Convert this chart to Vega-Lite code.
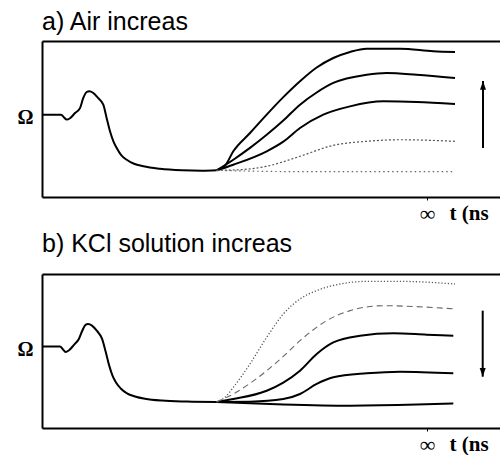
{
  "$schema": "https://vega.github.io/schema/vega-lite/v6.json",
  "padding": {"left": 16, "top": 10, "right": 0, "bottom": 0},
  "spacing": 8,
  "config": {
    "view": {"stroke": null},
    "title": {"font": "Liberation Sans", "fontSize": 25, "fontWeight": "normal", "anchor": "start", "frame": "group", "color": "#000", "baseline": "alphabetic"},
    "axis": {"grid": false, "domainColor": "#000", "domainWidth": 2, "tickColor": "#000", "labelColor": "#000", "titleColor": "#000"}
  },
  "datasets": {
    "a": [
      {"s": "base", "t": 0, "v": 52.8}, {"s": "base", "t": 19, "v": 52.8}, {"s": "base", "t": 22, "v": 51}, {"s": "base", "t": 24.7, "v": 49.6}, {"s": "base", "t": 28, "v": 50.5}, {"s": "base", "t": 33, "v": 53.8}, {"s": "base", "t": 38, "v": 57}, {"s": "base", "t": 41.3, "v": 63.5}, {"s": "base", "t": 44.7, "v": 67.3}, {"s": "base", "t": 47.3, "v": 67.8}, {"s": "base", "t": 51, "v": 66.8}, {"s": "base", "t": 56, "v": 63.5}, {"s": "base", "t": 61.3, "v": 59.2}, {"s": "base", "t": 64.5, "v": 51}, {"s": "base", "t": 68, "v": 42.1}, {"s": "base", "t": 71.5, "v": 35.5}, {"s": "base", "t": 74.7, "v": 31.4}, {"s": "base", "t": 79, "v": 27}, {"s": "base", "t": 84.7, "v": 23.9}, {"s": "base", "t": 92, "v": 21.3}, {"s": "base", "t": 101.3, "v": 19.7}, {"s": "base", "t": 118, "v": 18.1}, {"s": "base", "t": 140, "v": 17.1}, {"s": "base", "t": 160, "v": 16.8}, {"s": "base", "t": 174.7, "v": 17.1},
      {"s": "c1", "t": 174.7, "v": 17.1}, {"s": "c1", "t": 183, "v": 20}, {"s": "c1", "t": 191.3, "v": 29.3}, {"s": "c1", "t": 208, "v": 41}, {"s": "c1", "t": 224.7, "v": 52.8}, {"s": "c1", "t": 241.3, "v": 64}, {"s": "c1", "t": 258, "v": 74.2}, {"s": "c1", "t": 274.7, "v": 83}, {"s": "c1", "t": 291.3, "v": 89.1}, {"s": "c1", "t": 308, "v": 93}, {"s": "c1", "t": 324.7, "v": 95.1}, {"s": "c1", "t": 358, "v": 95.1}, {"s": "c1", "t": 391.3, "v": 93.4}, {"s": "c1", "t": 413, "v": 92.9},
      {"s": "c2", "t": 174.7, "v": 17.1}, {"s": "c2", "t": 191.3, "v": 23.9}, {"s": "c2", "t": 208, "v": 31.5}, {"s": "c2", "t": 224.7, "v": 39.9}, {"s": "c2", "t": 241.3, "v": 49}, {"s": "c2", "t": 258, "v": 59.2}, {"s": "c2", "t": 274.7, "v": 67}, {"s": "c2", "t": 291.3, "v": 73.1}, {"s": "c2", "t": 324.7, "v": 78.4}, {"s": "c2", "t": 344.7, "v": 79.5}, {"s": "c2", "t": 374.7, "v": 78.4}, {"s": "c2", "t": 413, "v": 76.3},
      {"s": "c3", "t": 174.7, "v": 17.1}, {"s": "c3", "t": 191.3, "v": 20.7}, {"s": "c3", "t": 224.7, "v": 29.3}, {"s": "c3", "t": 241.3, "v": 35.5}, {"s": "c3", "t": 258, "v": 44.2}, {"s": "c3", "t": 281.3, "v": 52.8}, {"s": "c3", "t": 308, "v": 58.1}, {"s": "c3", "t": 341.3, "v": 61.3}, {"s": "c3", "t": 374.7, "v": 60.9}, {"s": "c3", "t": 413, "v": 59.6},
      {"s": "c4", "t": 174.7, "v": 17.1}, {"s": "c4", "t": 200, "v": 17.6}, {"s": "c4", "t": 224.7, "v": 19.7}, {"s": "c4", "t": 258, "v": 26.1}, {"s": "c4", "t": 291.3, "v": 33.1}, {"s": "c4", "t": 324.7, "v": 35.7}, {"s": "c4", "t": 358, "v": 36.7}, {"s": "c4", "t": 413, "v": 35.7},
      {"s": "c5", "t": 174.7, "v": 17.1}, {"s": "c5", "t": 250, "v": 16.3}, {"s": "c5", "t": 413, "v": 16.3}
    ],
    "b": [
      {"s": "base", "t": 0, "v": 53}, {"s": "base", "t": 18, "v": 53}, {"s": "base", "t": 21, "v": 51}, {"s": "base", "t": 23.5, "v": 49.4}, {"s": "base", "t": 27, "v": 50.5}, {"s": "base", "t": 32, "v": 54}, {"s": "base", "t": 37, "v": 58}, {"s": "base", "t": 40.5, "v": 63.5}, {"s": "base", "t": 43.5, "v": 67}, {"s": "base", "t": 46, "v": 67.5}, {"s": "base", "t": 50, "v": 66.5}, {"s": "base", "t": 55, "v": 63}, {"s": "base", "t": 60, "v": 58}, {"s": "base", "t": 63.5, "v": 50}, {"s": "base", "t": 67, "v": 41}, {"s": "base", "t": 70.5, "v": 34}, {"s": "base", "t": 74, "v": 29.5}, {"s": "base", "t": 79, "v": 25.5}, {"s": "base", "t": 85, "v": 22.5}, {"s": "base", "t": 93, "v": 20.5}, {"s": "base", "t": 103, "v": 19}, {"s": "base", "t": 120, "v": 17.8}, {"s": "base", "t": 145, "v": 17.2}, {"s": "base", "t": 174.7, "v": 16.9},
      {"s": "d1", "t": 174.7, "v": 16.9}, {"s": "d1", "t": 183, "v": 20}, {"s": "d1", "t": 191.3, "v": 26.4}, {"s": "d1", "t": 208, "v": 41.6}, {"s": "d1", "t": 224.7, "v": 58.9}, {"s": "d1", "t": 241.3, "v": 74}, {"s": "d1", "t": 258, "v": 83.8}, {"s": "d1", "t": 274.7, "v": 89.2}, {"s": "d1", "t": 298, "v": 93.5}, {"s": "d1", "t": 324.7, "v": 95.2}, {"s": "d1", "t": 358, "v": 95.2}, {"s": "d1", "t": 413, "v": 93.5},
      {"s": "d2", "t": 174.7, "v": 16.9}, {"s": "d2", "t": 191.3, "v": 22.1}, {"s": "d2", "t": 208, "v": 29}, {"s": "d2", "t": 224.7, "v": 37.2}, {"s": "d2", "t": 241.3, "v": 46.5}, {"s": "d2", "t": 258, "v": 56.7}, {"s": "d2", "t": 284.7, "v": 69.7}, {"s": "d2", "t": 308, "v": 76.2}, {"s": "d2", "t": 341.3, "v": 79.4}, {"s": "d2", "t": 374.7, "v": 78.8}, {"s": "d2", "t": 413, "v": 77.3},
      {"s": "d3", "t": 174.7, "v": 16.9}, {"s": "d3", "t": 191.3, "v": 18.8}, {"s": "d3", "t": 224.7, "v": 24.2}, {"s": "d3", "t": 241.3, "v": 29.5}, {"s": "d3", "t": 258, "v": 37.2}, {"s": "d3", "t": 274.7, "v": 48.1}, {"s": "d3", "t": 291.3, "v": 55.6}, {"s": "d3", "t": 318, "v": 59.9}, {"s": "d3", "t": 351.3, "v": 61.5}, {"s": "d3", "t": 384.7, "v": 60.6}, {"s": "d3", "t": 411.3, "v": 59.9},
      {"s": "d4", "t": 174.7, "v": 16.9}, {"s": "d4", "t": 208, "v": 17.1}, {"s": "d4", "t": 241.3, "v": 18.8}, {"s": "d4", "t": 258, "v": 22.1}, {"s": "d4", "t": 274.7, "v": 28.6}, {"s": "d4", "t": 291.3, "v": 32.9}, {"s": "d4", "t": 324.7, "v": 35.5}, {"s": "d4", "t": 358, "v": 36.6}, {"s": "d4", "t": 411.3, "v": 35.5},
      {"s": "d5", "t": 174.7, "v": 16.9}, {"s": "d5", "t": 241.3, "v": 15.3}, {"s": "d5", "t": 308, "v": 14.5}, {"s": "d5", "t": 374.7, "v": 15.2}, {"s": "d5", "t": 411.3, "v": 16}
    ],
    "arrows": [
      {"p": "a", "x": 441, "from": 31.4, "tip": 74.4},
      {"p": "b", "x": 440.7, "from": 76.2, "tip": 33.3}
    ]
  },
  "vconcat": [
    {
      "title": {"text": "a) Air increas", "offset": 6},
      "width": 458,
      "height": 156,
      "layer": [
        {
          "data": {"name": "a"},
          "transform": [{"filter": {"field": "s", "oneOf": ["base", "c1", "c2", "c3"]}}],
          "mark": {"type": "line", "interpolate": "monotone", "color": "#000", "strokeWidth": 2},
          "encoding": {
            "x": {"field": "t", "type": "quantitative", "scale": {"domain": [0, 458], "nice": false, "zero": false},
              "axis": {"orient": "bottom", "values": [385], "labelExpr": "'∞'", "labelFont": "Liberation Serif", "labelFontSize": 22, "labelPadding": 3, "tickSize": 3, "title": "t (ns", "titleFont": "Liberation Serif", "titleFontSize": 21, "titleFontWeight": "bold", "titleX": 407, "titleY": 22, "titleAlign": "left", "titleBaseline": "alphabetic"}},
            "y": {"field": "v", "type": "quantitative", "scale": {"domain": [0, 100], "nice": false},
              "axis": {"values": [52.8], "labelExpr": "'Ω'", "labelFont": "Liberation Serif", "labelFontSize": 20, "labelFontWeight": "bold", "ticks": false, "tickSize": 0, "labelPadding": 9, "labelOffset": 3, "title": null}},
            "detail": {"field": "s", "type": "nominal"}
          }
        },
        {
          "data": {"name": "a"},
          "transform": [{"filter": "datum.s == 'c4'"}],
          "mark": {"type": "line", "interpolate": "monotone", "color": "#555", "strokeWidth": 1.2, "strokeDash": [2, 2]},
          "encoding": {
            "x": {"field": "t", "type": "quantitative", "axis": null},
            "y": {"field": "v", "type": "quantitative"}
          }
        },
        {
          "data": {"name": "a"},
          "transform": [{"filter": "datum.s == 'c5'"}],
          "mark": {"type": "line", "interpolate": "monotone", "color": "#666", "strokeWidth": 1.2, "strokeDash": [1.5, 3]},
          "encoding": {
            "x": {"field": "t", "type": "quantitative", "axis": null},
            "y": {"field": "v", "type": "quantitative"}
          }
        },
        {
          "data": {"name": "arrows"},
          "transform": [{"filter": "datum.p == 'a'"}],
          "mark": {"type": "rule", "color": "#000", "strokeWidth": 2},
          "encoding": {
            "x": {"field": "x", "type": "quantitative", "axis": {"orient": "top", "labels": false, "ticks": false, "domain": true, "title": null}},
            "y": {"field": "from", "type": "quantitative"},
            "y2": {"field": "tip"}
          }
        },
        {
          "data": {"name": "arrows"},
          "transform": [{"filter": "datum.p == 'a'"}],
          "mark": {"type": "point", "shape": "M0,0L-0.75,2.2L0.75,2.2Z", "filled": true, "color": "#000", "opacity": 1, "size": 64},
          "encoding": {
            "x": {"field": "x", "type": "quantitative", "axis": null},
            "y": {"field": "tip", "type": "quantitative"}
          }
        }
      ],
      "resolve": {"axis": {"x": "independent"}}
    },
    {
      "title": {"text": "b) KCl solution increas", "offset": 17},
      "width": 458,
      "height": 154,
      "layer": [
        {
          "data": {"name": "b"},
          "transform": [{"filter": {"field": "s", "oneOf": ["base", "d3", "d4", "d5"]}}],
          "mark": {"type": "line", "interpolate": "monotone", "color": "#000", "strokeWidth": 2},
          "encoding": {
            "x": {"field": "t", "type": "quantitative", "scale": {"domain": [0, 458], "nice": false, "zero": false},
              "axis": {"orient": "bottom", "values": [385], "labelExpr": "'∞'", "labelFont": "Liberation Serif", "labelFontSize": 22, "labelPadding": 3, "tickSize": 3, "title": "t (ns", "titleFont": "Liberation Serif", "titleFontSize": 21, "titleFontWeight": "bold", "titleX": 407, "titleY": 22, "titleAlign": "left", "titleBaseline": "alphabetic"}},
            "y": {"field": "v", "type": "quantitative", "scale": {"domain": [0, 100], "nice": false},
              "axis": {"values": [53], "labelExpr": "'Ω'", "labelFont": "Liberation Serif", "labelFontSize": 20, "labelFontWeight": "bold", "ticks": false, "tickSize": 0, "labelPadding": 9, "labelOffset": 3, "title": null}},
            "detail": {"field": "s", "type": "nominal"}
          }
        },
        {
          "data": {"name": "b"},
          "transform": [{"filter": "datum.s == 'd1'"}],
          "mark": {"type": "line", "interpolate": "monotone", "color": "#555", "strokeWidth": 1.3, "strokeDash": [1.2, 2]},
          "encoding": {
            "x": {"field": "t", "type": "quantitative", "axis": null},
            "y": {"field": "v", "type": "quantitative"}
          }
        },
        {
          "data": {"name": "b"},
          "transform": [{"filter": "datum.s == 'd2'"}],
          "mark": {"type": "line", "interpolate": "monotone", "color": "#666", "strokeWidth": 1.1, "strokeDash": [6, 4]},
          "encoding": {
            "x": {"field": "t", "type": "quantitative", "axis": null},
            "y": {"field": "v", "type": "quantitative"}
          }
        },
        {
          "data": {"name": "arrows"},
          "transform": [{"filter": "datum.p == 'b'"}],
          "mark": {"type": "rule", "color": "#000", "strokeWidth": 2},
          "encoding": {
            "x": {"field": "x", "type": "quantitative", "axis": {"orient": "top", "labels": false, "ticks": false, "domain": true, "title": null}},
            "y": {"field": "from", "type": "quantitative"},
            "y2": {"field": "tip"}
          }
        },
        {
          "data": {"name": "arrows"},
          "transform": [{"filter": "datum.p == 'b'"}],
          "mark": {"type": "point", "shape": "M0,0L-0.75,-2.2L0.75,-2.2Z", "filled": true, "color": "#000", "opacity": 1, "size": 64},
          "encoding": {
            "x": {"field": "x", "type": "quantitative", "axis": null},
            "y": {"field": "tip", "type": "quantitative"}
          }
        }
      ],
      "resolve": {"axis": {"x": "independent"}}
    }
  ]
}
